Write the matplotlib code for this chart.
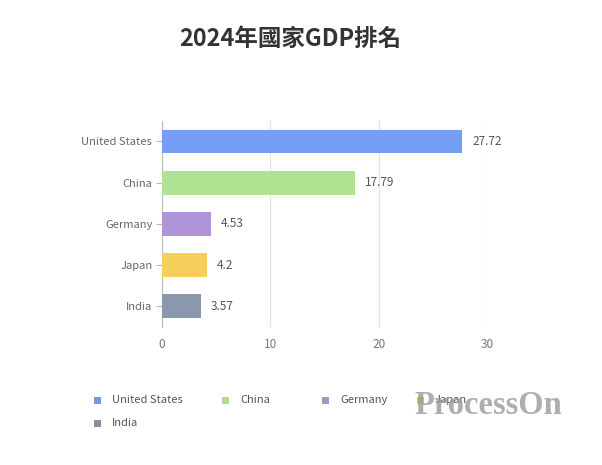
import matplotlib.pyplot as plt
from matplotlib.patches import Rectangle

plt.rcParams['font.family'] = ['Noto Sans CJK TC', 'DejaVu Sans']

# data
countries = ['United States', 'China', 'Germany', 'Japan', 'India']
gdp = [27.72, 17.79, 4.53, 4.2, 3.57]
colors = ['#759ef5', '#ade391', '#b094da', '#f6ce5a', '#8a98ad']
legend_colors = ['#7497e6', '#b2dd8e', '#9e98c2', '#e8c35a', '#8a8f9e']
xticks = [0, 10, 20, 30]
title = '2024年國家GDP排名'

fig = plt.figure(figsize=(6.02, 4.65), dpi=100)
ax = fig.add_axes([0.269, 0.297, 0.540, 0.443])

y = list(range(len(countries)))
ax.barh(y, gdp, height=0.58, color=colors, zorder=3)
for yi, v in zip(y, gdp):
    ax.text(v + 0.9, yi, f'{v:g}', va='center', ha='left', fontsize=8.5, color='#555555')

ax.set_ylim(4.5, -0.5)
ax.set_xlim(0, 30)
ax.set_yticks(y)
ax.set_yticklabels(countries)
ax.set_xticks(xticks)
ax.grid(axis='x', color='#e3e3e3', linewidth=0.9, zorder=0)
for s in ['top', 'right', 'bottom']:
    ax.spines[s].set_visible(False)
ax.spines['left'].set_color('#b8b8b8')
ax.tick_params(axis='y', length=4, color='#b8b8b8', labelcolor='#666666', labelsize=8, pad=3)
ax.tick_params(axis='x', length=0, labelcolor='#777777', labelsize=8.5, pad=8)

fig.text(0.482, 1 - 39 / 465, title, ha='center', va='center', fontsize=16.9, fontweight='bold', color='#333333')

# legend drawn by hand, echarts style
leg_x = [97, 225, 325, 420, 97]
leg_y = [400, 400, 400, 400, 423]
W, H = 602, 465
for name, c, lx, ly in zip(countries, legend_colors, leg_x, leg_y):
    fig.patches.append(Rectangle(((lx - 3.5) / W, 1 - (ly + 3.5) / H), 7 / W, 7 / H,
                                 transform=fig.transFigure, facecolor=c, edgecolor='none'))
    fig.text((lx + 15) / W, 1 - ly / H, name, ha='left', va='center', fontsize=8, color='#555555')

# watermark
fig.text(488 / W, 1 - 405 / H, 'ProcessOn', ha='center', va='center', fontsize=23.5,
         fontweight='bold', family='Liberation Serif', color='#9a9a9a', alpha=0.8)

fig.savefig('out.png', dpi=100)
